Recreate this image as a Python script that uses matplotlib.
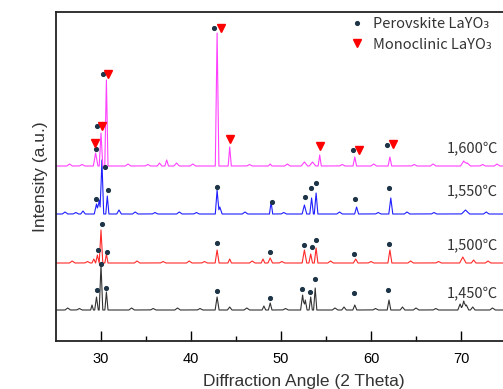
import numpy as np
import matplotlib
matplotlib.use("Agg")
import matplotlib.pyplot as plt
from matplotlib.lines import Line2D

plt.rcParams['font.family'] = ['Liberation Sans', 'DejaVu Sans']

# temperatures, offsets (baseline level) and colours
labels = ['1,450℃', '1,500℃', '1,550℃', '1,600℃']
baselines = [31, 78, 127, 175]
label_y = [48, 96, 150, 193]
colors = ['#333333', '#ff2a2a', '#1f1fff', '#ff40ff']

# peaks: position (2 theta), height above baseline, half width
peaks_1450 = [(29.0, 5, 0.15), (29.5, 13, 0.2), (30.0, 45, 0.2), (30.6, 18, 0.17),
              (42.9, 13, 0.22), (44.3, 3, 0.25), (48.1, 4, 0.2), (48.8, 7, 0.2),
              (52.4, 15, 0.22), (52.7, 10, 0.2), (53.3, 13, 0.18), (53.8, 22, 0.18),
              (57.0, 3, 0.25), (58.2, 5, 0.22), (62.0, 10, 0.2), (63.5, 3, 0.25),
              (69.9, 6, 0.25), (70.3, 9, 0.25), (70.6, 5, 0.25), (71.3, 3, 0.25)]
peaks_1500 = [(29.2, 4, 0.2), (29.6, 8, 0.2), (30.0, 33, 0.2), (30.6, 9, 0.17),
              (42.9, 13, 0.22), (44.3, 4, 0.2), (48.0, 4, 0.2), (48.8, 5, 0.25),
              (52.6, 13, 0.25), (53.3, 9, 0.2), (53.9, 15, 0.2), (58.3, 4, 0.25),
              (62.1, 13, 0.22), (70.2, 6, 0.35), (71.4, 3, 0.25)]
peaks_1550 = [(28.0, 3, 0.25), (29.5, 10, 0.25), (29.8, 14, 0.2), (30.1, 54, 0.2),
              (30.7, 18, 0.17), (32.0, 4, 0.25), (42.9, 24, 0.2), (43.2, 7, 0.25),
              (48.9, 12, 0.18), (52.6, 9, 0.25), (53.4, 16, 0.2), (53.9, 21, 0.2),
              (58.4, 7, 0.22), (62.2, 16, 0.22), (70.5, 4, 0.45)]
peaks_1600 = [(29.4, 13, 0.25), (30.0, 33, 0.2), (30.6, 86, 0.18), (36.5, 3, 0.25),
              (37.3, 6, 0.2), (38.4, 3, 0.3), (42.9, 133, 0.2), (44.3, 19, 0.17),
              (48.8, 2, 0.2), (52.6, 4, 0.35), (53.5, 4, 0.35), (54.3, 11, 0.17),
              (58.2, 9, 0.2), (62.1, 9, 0.2), (70.3, 5, 0.35), (70.7, 3, 0.35)]
# small baseline ripples
ripple_1450 = [26.3, 27.6, 33.4, 35.8, 38.5, 41.0, 46.2, 50.5, 56.0, 60.5, 65.0, 67.2, 73.5]
ripple_1500 = [26.8, 28.5, 34.0, 36.9, 39.8, 41.5, 46.8, 50.1, 55.5, 60.0, 64.4, 67.5, 73.0]
ripple_1550 = [26.0, 27.2, 33.8, 36.0, 38.7, 40.6, 46.0, 50.3, 56.5, 60.8, 64.0, 67.0, 72.8]
ripple_1600 = [26.5, 27.9, 33.0, 35.2, 40.2, 46.5, 50.7, 56.8, 60.3, 64.8, 66.9, 72.4, 74.0]
ripple_h = [2, 1.5, 2, 1.5, 2, 1.5, 2, 1.5, 2, 1.5, 2, 1.5, 2]

peak_sets = [peaks_1450, peaks_1500, peaks_1550, peaks_1600]
ripple_sets = [ripple_1450, ripple_1500, ripple_1550, ripple_1600]

# phase markers (2 theta, level)
perov_x = [29.56, 30.0, 30.56, 42.9, 48.8, 52.3, 53.2, 53.8, 58.1, 61.9,
           29.67, 30.1, 30.67, 42.9, 48.8, 52.56, 53.4, 53.9, 58.1, 62.0,
           29.44, 30.44, 30.78, 42.9, 49.0, 52.67, 53.33, 53.89, 58.2, 62.0,
           29.44, 29.56, 30.22, 42.56, 58.0, 61.78]
perov_y = [51, 77, 53, 50, 43, 52, 49, 62, 48, 51,
           91, 117, 89, 98, 89, 96, 94, 101, 87, 97,
           142, 174, 151, 154, 139, 144, 153, 158, 142, 153,
           192, 215, 267, 313, 191, 196]
mono_x = [29.33, 30.11, 30.78, 43.33, 44.33, 54.33, 58.67, 62.44]
mono_y = [198, 215, 267, 313, 202, 195, 191, 197]

fig = plt.figure(figsize=(5.03, 3.89), dpi=100)
ax = fig.add_axes([56 / 503, 48 / 389, 495 / 503, 329 / 389])

x = np.arange(25, 80, 0.02)
for peaks, ripples, base, col in zip(peak_sets, ripple_sets, baselines, colors):
    y = np.full_like(x, float(base))
    for pos, h, w in peaks:
        y += h * np.clip(1 - np.abs(x - pos) / w, 0, None)
    for pos, h in zip(ripples, ripple_h):
        y += h * np.clip(1 - np.abs(x - pos) / 0.3, 0, None)
    ax.plot(x, y, color=col, lw=0.8)

ax.plot(perov_x, perov_y, 'o', color='#1d3447', ms=2.7, ls='none')
ax.plot(mono_x, mono_y, 'v', color='#ff0000', ms=6, ls='none')

cjk = ['Noto Sans CJK KR', 'DejaVu Sans']
for lab, ly in zip(labels, label_y):
    ax.text(74.1, ly, lab, ha='right', va='center', fontsize=10.5,
            color='#333333', family=cjk)

ax.set_xlim(25, 80)
ax.set_ylim(0, 329)
ax.set_yticks([])
ax.set_xticks([30, 40, 50, 60, 70])
ax.set_xticks([35, 45, 55, 65, 75], minor=True)
ax.tick_params(axis='x', direction='in', length=7, width=1, labelsize=10.5, pad=8)
ax.tick_params(axis='x', which='minor', direction='in', length=3.5, width=1)
for s in ax.spines.values():
    s.set_linewidth(1.3)
    s.set_color('#222222')
ax.set_xlabel('Diffraction Angle (2 Theta)', fontsize=12.5, color='#333333', labelpad=6)
ax.set_ylabel('Intensity (a.u.)', fontsize=12.5, color='#333333', labelpad=6)

handles = [Line2D([], [], marker='o', color='#1d3447', ms=2.7, ls='none'),
           Line2D([], [], marker='v', color='#ff0000', ms=6, ls='none')]
fig.legend(handles, ['Perovskite LaYO₃', 'Monoclinic LaYO₃'],
           loc='upper left', bbox_to_anchor=(350 / 503, 1 - 17 / 389),
           frameon=False, handlelength=1.0, handletextpad=0.6, labelspacing=0.45,
           prop={'family': cjk, 'size': 10.5}, labelcolor='#333333',
           borderaxespad=0, borderpad=0)

fig.savefig('out.png', dpi=100)
